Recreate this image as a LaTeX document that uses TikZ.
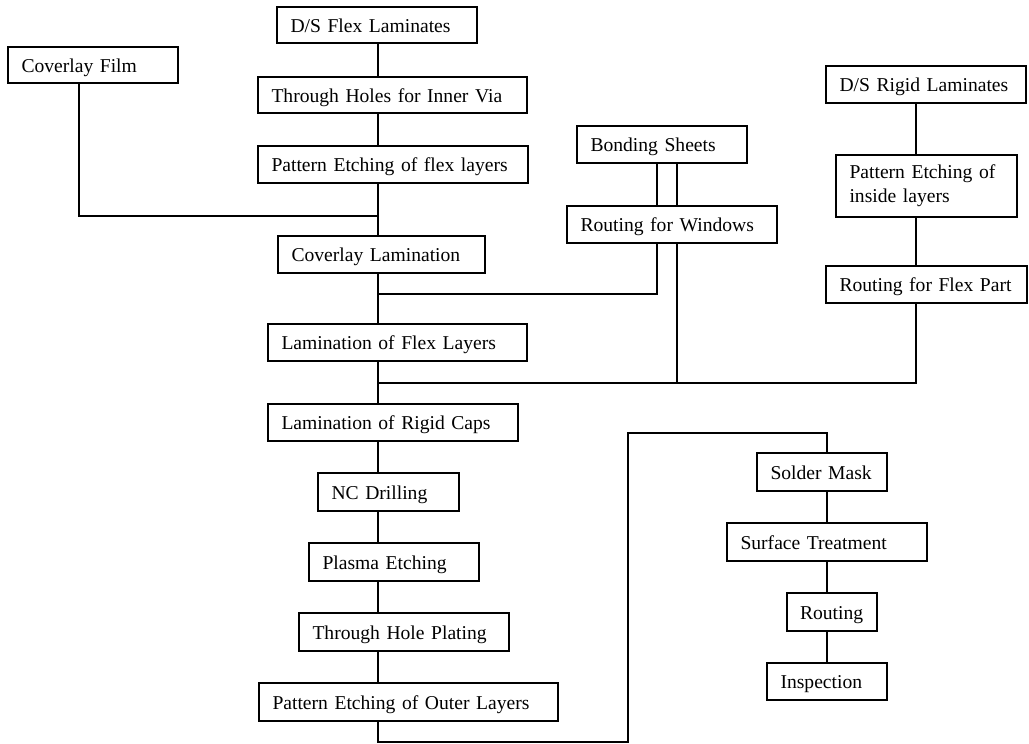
\documentclass[tikz,border=0pt]{standalone}
\usepackage{fontspec}
\setmainfont{Liberation Serif}
\begin{document}
\begin{tikzpicture}[x=1pt,y=-1pt,
  box/.style={draw, line width=1.1pt, anchor=north west, inner xsep=13.5pt,
    inner ysep=0pt, outer sep=0pt, align=left,
    font=\fontsize{19.6}{24}\selectfont},
  bx/.style={box, text height=16pt, text depth=2pt},
  link/.style={line width=1.1pt}]
\useasboundingbox (0,0) rectangle (1029,744);

% process steps
\node[bx, text width=173pt, minimum height=36pt] (dsflex) at (277,7)   {D/S Flex Laminates};
\node[bx, text width=143pt, minimum height=36pt] (cfilm)  at (8,47)    {Coverlay Film};
\node[bx, text width=242pt, minimum height=36pt] (thiv)   at (258,77)  {Through Holes for Inner Via};
\node[bx, text width=243pt, minimum height=37pt] (pef)    at (258,146) {Pattern Etching of flex layers};
\node[bx, text width=180pt, minimum height=37pt] (cl)     at (278,236) {Coverlay Lamination};
\node[bx, text width=232pt, minimum height=37pt] (lfl)    at (268,324) {Lamination of Flex Layers};
\node[bx, text width=143pt, minimum height=37pt] (bs)     at (577,126) {Bonding Sheets};
\node[bx, text width=183pt, minimum height=37pt] (rfw)    at (567,206) {Routing for Windows};
\node[bx, text width=173pt, minimum height=37pt] (dsrig)  at (826,66)  {D/S Rigid Laminates};
\node[box, text width=154pt, minimum height=62pt] (pei)   at (836,155) {Pattern Etching of\\inside layers};
\node[bx, text width=174pt, minimum height=37pt] (rfp)    at (826,266) {Routing for Flex Part};
\node[bx, text width=223pt, minimum height=37pt] (lrc)    at (268,404) {Lamination of Rigid Caps};
\node[bx, text width=114pt, minimum height=38pt] (ncd)    at (318,473) {NC Drilling};
\node[bx, text width=143pt, minimum height=38pt] (pe)     at (309,543) {Plasma Etching};
\node[bx, text width=183pt, minimum height=38pt] (thp)    at (299,613) {Through Hole Plating};
\node[bx, text width=272pt, minimum height=38pt] (peol)   at (259,683) {Pattern Etching of Outer Layers};
\node[bx, text width=103pt, minimum height=38pt] (sm)     at (757,453) {Solder Mask};
\node[bx, text width=173pt, minimum height=38pt] (st)     at (727,523) {Surface Treatment};
\node[bx, text width=64pt,  minimum height=38pt, inner xsep=13pt] (rt) at (787,593) {Routing};
\node[bx, text width=93pt,  minimum height=37pt] (insp)   at (767,663) {Inspection};

% column positions and junctions
\coordinate (colA)  at (378,0);
\coordinate (colF)  at (79,0);
\coordinate (colB1) at (657,0);
\coordinate (colB2) at (677,0);
\coordinate (colC)  at (916,0);
\coordinate (colD)  at (827,0);
\coordinate (j1) at (378,216);
\coordinate (j2) at (378,294);
\coordinate (j3) at (378,383);
\coordinate (r1) at (628,742);
\coordinate (r2) at (827,433);

% flex core line
\draw[link] (colA |- dsflex.south) -- (colA |- thiv.north);
\draw[link] (colA |- thiv.south) -- (colA |- pef.north);
\draw[link] (colA |- pef.south) -- (colA |- cl.north);
\draw[link] (colF |- cfilm.south) |- (j1);
\draw[link] (colA |- cl.south) -- (colA |- lfl.north);

% bonding sheets
\draw[link] (colB1 |- bs.south) -- (colB1 |- rfw.north);
\draw[link] (colB2 |- bs.south) -- (colB2 |- rfw.north);
\draw[link] (colB1 |- rfw.south) |- (j2);
\draw[link] (colB2 |- rfw.south) |- (j3);

% rigid laminates
\draw[link] (colC |- dsrig.south) -- (colC |- pei.north);
\draw[link] (colC |- pei.south) -- (colC |- rfp.north);
\draw[link] (colC |- rfp.south) |- (j3);

% main line
\draw[link] (colA |- lfl.south) -- (colA |- lrc.north);
\draw[link] (colA |- lrc.south) -- (colA |- ncd.north);
\draw[link] (colA |- ncd.south) -- (colA |- pe.north);
\draw[link] (colA |- pe.south) -- (colA |- thp.north);
\draw[link] (colA |- thp.south) -- (colA |- peol.north);
\draw[link] (colA |- peol.south) |- (r1) |- (r2) -- (colD |- sm.north);

% finishing line
\draw[link] (colD |- sm.south) -- (colD |- st.north);
\draw[link] (colD |- st.south) -- (colD |- rt.north);
\draw[link] (colD |- rt.south) -- (colD |- insp.north);
\end{tikzpicture}
\end{document}
